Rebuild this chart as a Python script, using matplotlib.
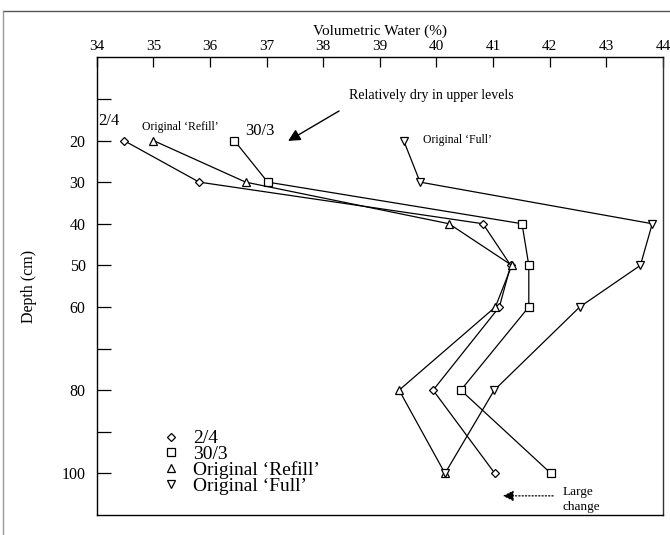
import matplotlib
matplotlib.use("Agg")
import matplotlib.pyplot as plt
from matplotlib.lines import Line2D

plt.rcParams['font.family'] = ['Liberation Serif', 'DejaVu Serif']

# Data
depth = [20, 30, 40, 50, 60, 80, 100]
water_2_4 = [34.48, 35.81, 40.82, 41.31, 41.11, 39.94, 41.03]
water_30_3 = [36.43, 37.02, 41.51, 41.63, 41.63, 40.43, 42.02]
water_refill = [35.00, 36.63, 40.22, 41.33, 41.04, 39.34, 40.15]
water_full = [39.42, 39.71, 43.81, 43.60, 42.53, 41.02, 40.15]

series_labels = ["2/4", "30/3", "Original \u2018Refill\u2019", "Original \u2018Full\u2019"]
series_values = [water_2_4, water_30_3, water_refill, water_full]
series_markers = ["D", "s", "^", "v"]
marker_sizes = [4.5, 6, 6, 6]

x_ticks = list(range(34, 45))
y_ticks = list(range(10, 101, 10))
y_ticklabels = ["", "20", "30", "40", "50", "60", "", "80", "", "100"]

fig = plt.figure(figsize=(6.7, 5.35), dpi=100)
ax = fig.add_axes([0.1443, 0.0374, 0.8453, 0.8555])

# Draw each series
for vals, mk, ms in zip(series_values, series_markers, marker_sizes):
    ax.plot(vals, depth, color="black", lw=0.9, marker=mk, ms=ms,
            mfc="white", mec="black", mew=0.9)

ax.set_xlim(34, 44)
ax.set_ylim(110, 0)
ax.xaxis.tick_top()
ax.xaxis.set_label_position("top")
ax.set_xticks(x_ticks)
ax.set_yticks(y_ticks)
ax.set_yticklabels(y_ticklabels)
ax.tick_params(axis="x", direction="in", length=7, width=0.9, labelsize=11, pad=3)
ax.tick_params(axis="y", direction="in", length=10, width=0.9, labelsize=11.5, pad=8)
ax.set_xlabel("Volumetric Water (%)", fontsize=11, labelpad=4)
ax.set_ylabel("Depth (cm)", fontsize=11.5, labelpad=18)
for s in ax.spines.values():
    s.set_linewidth(1.0)
ax.spines["right"].set_color("#333333")

# Legend (markers only)
handles = [Line2D([], [], ls="none", marker=mk, ms=ms, mfc="white", mec="black", mew=0.9)
           for mk, ms in zip(series_markers, marker_sizes)]
ax.legend(handles, series_labels, loc="upper left", bbox_to_anchor=(0.117, 0.186),
          frameon=False, fontsize=14, labelspacing=-0.1, handlelength=0.8,
          handletextpad=0.75, borderpad=0, borderaxespad=0)

# Annotations
ax.text(34.02, 15.4, "2/4", fontsize=12, va="center", ha="left")
ax.text(34.80, 16.75, "Original \u2018Refill\u2019", fontsize=8.5, va="center", ha="left")
ax.text(36.62, 17.7, "30/3", fontsize=12, va="center", ha="left")
ax.text(39.76, 19.9, "Original \u2018Full\u2019", fontsize=8.5, va="center", ha="left")
ax.text(38.46, 9.2, "Relatively dry in upper levels", fontsize=10, va="center", ha="left")
ax.annotate("", xy=(37.38, 20.1), xytext=(38.28, 12.9),
            arrowprops=dict(arrowstyle="-|>", color="black", lw=1.0,
                            mutation_scale=18, shrinkA=0, shrinkB=0))
ax.text(42.22, 106.3, "Large\nchange", fontsize=9.5, va="center", ha="left",
        linespacing=1.35)
ax.annotate("", xy=(41.17, 105.4), xytext=(42.06, 105.4),
            arrowprops=dict(arrowstyle="-|>", color="black", lw=0.9, ls=":",
                            mutation_scale=16, shrinkA=0, shrinkB=0))

# Scan border lines
fig.add_artist(Line2D([0.005, 1.0], [0.980, 0.980], color="#555555", lw=1.0))
fig.add_artist(Line2D([0.005, 0.005], [0.0, 0.980], color="#999999", lw=1.0))

fig.savefig("out.png", dpi=100)
